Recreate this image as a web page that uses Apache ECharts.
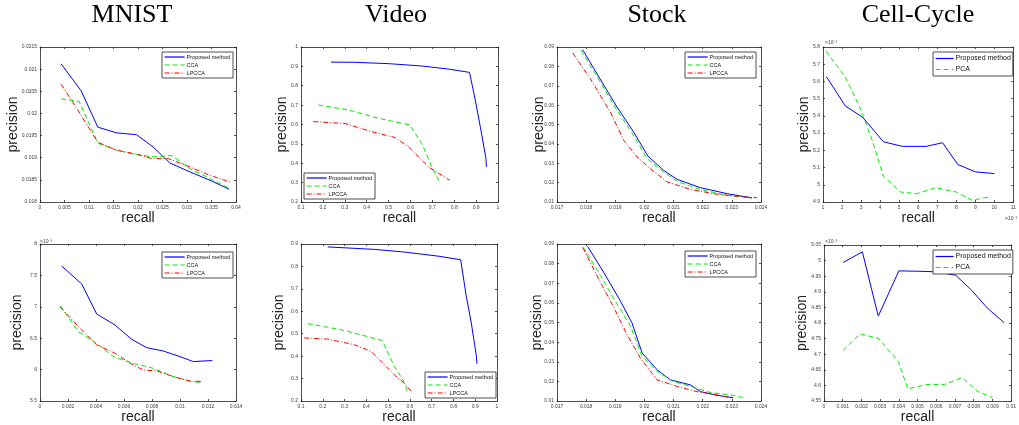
<!DOCTYPE html>
<html>
<head>
<meta charset="utf-8">
<script src="https://cdn.jsdelivr.net/npm/echarts@6/dist/echarts.min.js"></script>
<style>
html,body{margin:0;padding:0;background:#fff;}
#chart{width:1019px;height:425px;}
</style>
</head>
<body>
<div id="chart"></div>
<script>
// ---------- titles & labels ----------
const panelTitles = ['MNIST', 'Video', 'Stock', 'Cell-Cycle'];
const seriesNames = ['Proposed method', 'CCA', 'LPCCA', 'PCA'];

// ---------- MNIST (top) ----------
const mnistTopPropX = [0.0043, 0.0084, 0.0118, 0.0157, 0.0197, 0.0231, 0.0265, 0.0306, 0.0347, 0.0386];
const mnistTopPropY = [0.02112, 0.02051, 0.01969, 0.01956, 0.01952, 0.01924, 0.01888, 0.01868, 0.01849, 0.01829];
const mnistTopCcaX = [0.0043, 0.0080, 0.0118, 0.0156, 0.0197, 0.0231, 0.0269, 0.0306, 0.0347, 0.0386];
const mnistTopCcaY = [0.02033, 0.02027, 0.01933, 0.01917, 0.01907, 0.01902, 0.01905, 0.01875, 0.01853, 0.01831];
const mnistTopLpX = [0.0043, 0.0082, 0.0118, 0.0156, 0.0197, 0.0228, 0.0262, 0.0306, 0.0347, 0.0388];
const mnistTopLpY = [0.02066, 0.01999, 0.01935, 0.01917, 0.01908, 0.01898, 0.01898, 0.01879, 0.01860, 0.01845];

// ---------- MNIST (bottom, precision x1e-3) ----------
const mnistBotPropX = [0.00155, 0.00298, 0.00405, 0.00536, 0.00655, 0.00762, 0.00881, 0.0100, 0.01095, 0.01231];
const mnistBotPropY = [7.65, 7.363, 6.885, 6.71, 6.482, 6.349, 6.296, 6.206, 6.128, 6.144];
const mnistBotCcaX = [0.00143, 0.00274, 0.00405, 0.00524, 0.00667, 0.0081, 0.00952, 0.0107, 0.0116];
const mnistBotCcaY = [7.018, 6.604, 6.418, 6.206, 6.10, 6.02, 5.888, 5.818, 5.79];
const mnistBotLpX = [0.00143, 0.00286, 0.00405, 0.00536, 0.00655, 0.00738, 0.00833, 0.00952, 0.0107, 0.0116];
const mnistBotLpY = [7.0, 6.657, 6.393, 6.26, 6.085, 5.994, 5.98, 5.888, 5.818, 5.81];

// ---------- Video (top) ----------
const videoTopPropX = [0.237, 0.347, 0.5, 0.652, 0.774, 0.87, 0.896, 0.919, 0.945, 0.947];
const videoTopPropY = [0.922, 0.921, 0.914, 0.902, 0.886, 0.869, 0.727, 0.589, 0.425, 0.381];
const videoTopCcaX = [0.179, 0.317, 0.454, 0.596, 0.652, 0.698, 0.736];
const videoTopCcaY = [0.701, 0.675, 0.632, 0.598, 0.502, 0.381, 0.298];
const videoTopLpX = [0.156, 0.301, 0.423, 0.53, 0.591, 0.683, 0.779];
const videoTopLpY = [0.615, 0.605, 0.563, 0.533, 0.485, 0.381, 0.312];

// ---------- Video (bottom) ----------
const videoBotPropX = [0.223, 0.437, 0.575, 0.729, 0.833, 0.859, 0.882, 0.905, 0.908];
const videoBotPropY = [0.887, 0.876, 0.864, 0.846, 0.83, 0.667, 0.548, 0.403, 0.366];
const videoBotCcaX = [0.131, 0.284, 0.473, 0.529, 0.568, 0.591];
const videoBotCcaY = [0.545, 0.518, 0.47, 0.354, 0.294, 0.237];
const videoBotLpX = [0.115, 0.223, 0.345, 0.422, 0.468, 0.529, 0.575, 0.606];
const videoBotLpY = [0.481, 0.476, 0.451, 0.421, 0.376, 0.316, 0.279, 0.242];

// ---------- Stock (top) ----------
const stockTopPropX = [0.01788, 0.01837, 0.01906, 0.01963, 0.02012, 0.02066, 0.02112, 0.02192, 0.02284, 0.02369];
const stockTopPropY = [0.0886, 0.0762, 0.059, 0.0461, 0.0337, 0.0263, 0.0217, 0.0174, 0.0143, 0.0121];
const stockTopCcaX = [0.01782, 0.01837, 0.01906, 0.01963, 0.02009, 0.02066, 0.02112, 0.02192, 0.02284, 0.02369];
const stockTopCcaY = [0.0883, 0.0749, 0.0573, 0.0444, 0.0324, 0.0255, 0.0207, 0.0164, 0.0134, 0.0120];
const stockTopLpX = [0.01754, 0.01814, 0.01883, 0.01929, 0.01975, 0.0202, 0.02078, 0.02158, 0.02249, 0.02341, 0.02387];
const stockTopLpY = [0.0869, 0.0737, 0.0564, 0.0418, 0.0332, 0.0272, 0.0203, 0.0165, 0.014, 0.0126, 0.0122];

// ---------- Stock (bottom) ----------
const stockBotPropX = [0.01805, 0.0186, 0.01917, 0.01957, 0.01992, 0.02043, 0.02089, 0.02158, 0.02192, 0.02249, 0.02304];
const stockBotPropY = [0.0888, 0.0756, 0.0611, 0.0499, 0.0345, 0.026, 0.0208, 0.0182, 0.0148, 0.0129, 0.0117];
const stockBotCcaX = [0.01789, 0.01849, 0.01906, 0.01952, 0.01992, 0.02043, 0.021, 0.02158, 0.02226, 0.02295, 0.02341];
const stockBotCcaY = [0.0885, 0.0739, 0.0594, 0.0482, 0.0328, 0.0251, 0.0199, 0.0174, 0.0143, 0.0131, 0.0117];
const stockBotLpX = [0.01789, 0.01837, 0.01895, 0.0194, 0.01986, 0.02043, 0.02112, 0.0218, 0.02249, 0.02304];
const stockBotLpY = [0.0881, 0.0739, 0.0576, 0.0439, 0.0319, 0.0208, 0.0174, 0.0148, 0.0131, 0.0114];

// ---------- Cell-Cycle (top, precision x1e-3) ----------
const cellTopPropX = [1.17, 2.17, 3.08, 4.17, 5.17, 6.42, 7.28, 8.08, 9.0, 10.0];
const cellTopPropY = [5.629, 5.458, 5.392, 5.25, 5.223, 5.223, 5.244, 5.118, 5.075, 5.065];
const cellTopPcaX = [1.17, 2.17, 2.92, 3.58, 4.17, 5.08, 5.92, 6.92, 8.0, 8.83, 9.75];
const cellTopPcaY = [5.775, 5.625, 5.454, 5.26, 5.05, 4.958, 4.948, 4.983, 4.958, 4.91, 4.93];

// ---------- Cell-Cycle (bottom, precision x1e-3) ----------
const cellBotPropX = [0.00102, 0.00205, 0.0029, 0.0040, 0.0050, 0.0060, 0.00704, 0.00789, 0.00874, 0.00963];
const cellBotPropY = [4.994, 5.028, 4.822, 4.967, 4.966, 4.964, 4.953, 4.905, 4.847, 4.801];
const cellBotPcaX = [0.00102, 0.00193, 0.0029, 0.00397, 0.00448, 0.0055, 0.00644, 0.00738, 0.00823, 0.009];
const cellBotPcaY = [4.712, 4.765, 4.751, 4.677, 4.589, 4.603, 4.603, 4.625, 4.58, 4.561];

// ---------- axis ranges ----------
const xRanges = [[0, 0.04, 0.005], [0.1, 1, 0.1], [0.017, 0.024, 0.001], [1, 11, 1],
                 [0, 0.014, 0.002], [0.1, 1, 0.1], [0.017, 0.024, 0.001], [0, 0.01, 0.001]];
const yRanges = [[0.018, 0.0215, 0.0005], [0.2, 1, 0.1], [0.01, 0.09, 0.01], [4.9, 5.8, 0.1],
                 [5.5, 8, 0.5], [0.2, 0.9, 0.1], [0.01, 0.09, 0.01], [4.55, 5.05, 0.05]];

// ---------- layout ----------
const grids = [
  {left: 40, top: 47, width: 196, height: 155},
  {left: 301, top: 47, width: 197, height: 155},
  {left: 557, top: 47, width: 204, height: 155},
  {left: 823, top: 47, width: 200, height: 155},
  {left: 40, top: 244, width: 196, height: 157},
  {left: 301, top: 244, width: 196, height: 157},
  {left: 557, top: 244, width: 204, height: 157},
  {left: 824, top: 245, width: 196, height: 156}
];
const yNameGaps = [20, 12, 11, 12, 16, 15, 13, 15];

const zip = (xs, ys) => xs.map((x, i) => [x, ys[i]]);
const fmt = v => String(+(+v).toFixed(6));

const styles = {
  'Proposed method': {color: '#0000ff', type: 'solid'},
  'CCA': {color: '#00ee00', type: [5, 3]},
  'LPCCA': {color: '#ff0000', type: [5, 2, 1, 2]},
  'PCA': {color: '#00ee00', type: [5, 3]}
};

const panelSeries = [
  [['Proposed method', mnistTopPropX, mnistTopPropY], ['CCA', mnistTopCcaX, mnistTopCcaY], ['LPCCA', mnistTopLpX, mnistTopLpY]],
  [['Proposed method', videoTopPropX, videoTopPropY], ['CCA', videoTopCcaX, videoTopCcaY], ['LPCCA', videoTopLpX, videoTopLpY]],
  [['Proposed method', stockTopPropX, stockTopPropY], ['CCA', stockTopCcaX, stockTopCcaY], ['LPCCA', stockTopLpX, stockTopLpY]],
  [['Proposed method', cellTopPropX, cellTopPropY], ['PCA', cellTopPcaX, cellTopPcaY]],
  [['Proposed method', mnistBotPropX, mnistBotPropY], ['CCA', mnistBotCcaX, mnistBotCcaY], ['LPCCA', mnistBotLpX, mnistBotLpY]],
  [['Proposed method', videoBotPropX, videoBotPropY], ['CCA', videoBotCcaX, videoBotCcaY], ['LPCCA', videoBotLpX, videoBotLpY]],
  [['Proposed method', stockBotPropX, stockBotPropY], ['CCA', stockBotCcaX, stockBotCcaY], ['LPCCA', stockBotLpX, stockBotLpY]],
  [['Proposed method', cellBotPropX, cellBotPropY], ['PCA', cellBotPcaX, cellBotPcaY]]
];

const legendBoxes = [
  {left: 162, top: 52, small: true},
  {left: 304, top: 173, small: true},
  {left: 685, top: 52, small: true},
  {left: 933, top: 52, small: false},
  {left: 162, top: 252, small: true},
  {left: 425, top: 372, small: true},
  {left: 685, top: 251, small: true},
  {left: 933, top: 250, small: false}
];

const labelFont = 'Liberation Sans, Arial, sans-serif';
const tickColor = '#404040';

const xAxes = [], yAxes = [], series = [], legends = [];
grids.forEach((g, i) => {
  const [xmin, xmax, xint] = xRanges[i];
  const [ymin, ymax, yint] = yRanges[i];
  xAxes.push({
    type: 'value', gridIndex: i, min: xmin, max: xmax, interval: xint, position: 'bottom',
    name: 'recall', nameLocation: 'middle', nameGap: 7,
    nameTextStyle: {fontFamily: labelFont, fontSize: 14, color: '#222'},
    axisLine: {show: true, onZero: false, lineStyle: {color: '#222', width: 0.8}},
    axisTick: {show: true, inside: true, length: 2, lineStyle: {color: '#222', width: 0.8}},
    axisLabel: {fontSize: 5, fontFamily: labelFont, color: tickColor, margin: 3, formatter: fmt, showMinLabel: true, showMaxLabel: true, hideOverlap: false},
    splitLine: {show: false}
  });
  yAxes.push({
    type: 'value', gridIndex: i, min: ymin, max: ymax, interval: yint, position: 'left',
    name: 'precision', nameLocation: 'middle', nameGap: yNameGaps[i], nameMoveOverlap: false,
    nameTextStyle: {fontFamily: labelFont, fontSize: 14, color: '#222'},
    axisLine: {show: true, onZero: false, lineStyle: {color: '#222', width: 0.8}},
    axisTick: {show: true, inside: true, length: 2, lineStyle: {color: '#222', width: 0.8}},
    axisLabel: {fontSize: 5, fontFamily: labelFont, color: tickColor, margin: 3, formatter: fmt, showMinLabel: true, showMaxLabel: true, hideOverlap: false},
    splitLine: {show: false}
  });
  panelSeries[i].forEach(([name, xs, ys]) => {
    const st = styles[name];
    series.push({
      type: 'line', name: name, xAxisIndex: i, yAxisIndex: i,
      data: zip(xs, ys), symbol: 'none', showSymbol: false, smooth: false,
      lineStyle: {color: st.color, width: 1, type: st.type},
      itemStyle: {color: st.color},
      silent: true, z: 3
    });
  });
  const lb = legendBoxes[i];
  legends.push({
    orient: 'vertical', left: lb.left, top: lb.top,
    data: panelSeries[i].map(s => ({
      name: s[0],
      lineStyle: {color: styles[s[0]].color, width: 1.2, type: styles[s[0]].type},
      itemStyle: {opacity: 0, borderWidth: 0}
    })),
    backgroundColor: '#fff', borderColor: '#222', borderWidth: 0.8,
    padding: lb.small ? [2, 3, 2, 2] : [3, 2, 3, 2],
    itemWidth: lb.small ? 20 : 18, itemHeight: 6, itemGap: lb.small ? 2 : 4,
    textStyle: {fontSize: lb.small ? 5.5 : 7, fontFamily: labelFont, color: '#111', padding: [0, 0, 0, -3]},
    selectedMode: false, z: 10
  });
});
// mirrored ticks on top and right (box style)
grids.forEach((g, i) => {
  const [xmin, xmax, xint] = xRanges[i];
  const [ymin, ymax, yint] = yRanges[i];
  xAxes.push({
    type: 'value', gridIndex: i, min: xmin, max: xmax, interval: xint, position: 'top',
    axisLine: {show: true, onZero: false, lineStyle: {color: '#222', width: 0.8}},
    axisTick: {show: true, inside: true, length: 2, lineStyle: {color: '#222', width: 0.8}},
    axisLabel: {show: false}, splitLine: {show: false}
  });
  yAxes.push({
    type: 'value', gridIndex: i, min: ymin, max: ymax, interval: yint, position: 'right',
    axisLine: {show: true, onZero: false, lineStyle: {color: '#222', width: 0.8}},
    axisTick: {show: true, inside: true, length: 2, lineStyle: {color: '#222', width: 0.8}},
    axisLabel: {show: false}, splitLine: {show: false}
  });
});

const titleCenters = [132, 396, 657, 918];
const graphics = panelTitles.map((t, i) => ({
  type: 'text', x: titleCenters[i], y: 15,
  style: {text: t, fontFamily: 'Liberation Serif, Times New Roman, serif', fontSize: 26, fill: '#000', align: 'center', verticalAlign: 'middle'}
}));
const expLabels = [[40, 242], [825, 43], [825, 242], [1005, 219]];
expLabels.forEach(([x, y]) => {
  graphics.push({
    type: 'text', x: x, y: y,
    style: {text: '×10⁻³', fontFamily: labelFont, fontSize: 5, fill: tickColor, align: 'left', verticalAlign: 'middle'}
  });
});

const chart = echarts.init(document.getElementById('chart'), null, {renderer: 'canvas'});
chart.setOption({
  animation: false,
  backgroundColor: '#fff',
  grid: grids.map(g => Object.assign({containLabel: false, show: false}, g)),
  xAxis: xAxes,
  yAxis: yAxes,
  legend: legends,
  series: series,
  graphic: graphics
});
</script>
</body>
</html>
